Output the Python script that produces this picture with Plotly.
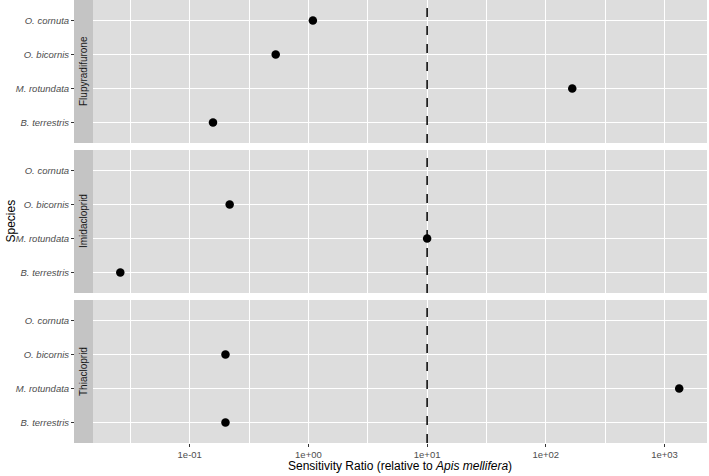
import plotly.graph_objects as go

species = ["B. terrestris", "M. rotundata", "O. bicornis", "O. cornuta"]
panels = ["Flupyradifurone", "Imidacloprid", "Thiacloprid"]
flupyradifurone = [0.157, 167, 0.53, 1.09]
imidacloprid = [0.026, 10, 0.217, None]
thiacloprid = [0.20, 1330, 0.20, None]
values = [flupyradifurone, imidacloprid, thiacloprid]
tick_vals = [0.1, 1, 10, 100, 1000]
tick_text = ["1e-01", "1e+00", "1e+01", "1e+02", "1e+03"]
minor_vals = [10 ** -1.5, 10 ** -0.5, 10 ** 0.5, 10 ** 1.5, 10 ** 2.5]
ref_value = 10

W, H = 709, 476
ml, mr, mt, mb = 74, 2, 0, 33
pw = W - ml - mr
ph = H - mt - mb
strip_w = 19
xdom0 = strip_w / pw

# panel pixel bounds (within plot area)
pix = [(0, 143), (150, 293), (300, 443)]
ydoms = [[1 - b / ph, 1 - a / ph] for a, b in pix]

font = "Liberation Sans, Arial, sans-serif"
fig = go.Figure()
xrange = [-1.815, 3.358]

for i, (name, vals) in enumerate(zip(panels, values)):
    n = "" if i == 0 else str(i + 1)
    xs, ys = [], []
    for s, v in zip(species, vals):
        if v is not None:
            xs.append(v)
            ys.append(s)
    fig.add_trace(go.Scatter(x=xs, y=ys, mode="markers",
                             marker=dict(color="black", size=8.5),
                             xaxis="x" + n, yaxis="y" + n, showlegend=False,
                             cliponaxis=False))
    show_labels = (i == 2)
    fig.layout["xaxis" + n] = dict(
        domain=[xdom0, 1], anchor="y" + n, type="log", range=xrange,
        automargin=False,
        tickvals=tick_vals, ticktext=tick_text, showticklabels=show_labels,
        ticks="outside" if show_labels else "", ticklen=3, tickcolor="#333333",
        tickfont=dict(family=font, size=9.5, color="#4D4D4D"),
        showgrid=True, gridcolor="white", gridwidth=1.1,
        minor=dict(tickvals=minor_vals, showgrid=True, gridcolor="white",
                   gridwidth=0.7, ticks=""),
        zeroline=False, showline=False,
        matches=None if i == 0 else "x",
    )
    fig.layout["yaxis" + n] = dict(
        domain=ydoms[i], anchor="free", position=0, type="category",
        automargin=False,
        categoryorder="array", categoryarray=species, range=[-0.6, 3.6],
        tickvals=species, ticks="outside", ticklen=3, tickcolor="#333333",
        tickfont=dict(family=font, size=9.5, color="#4D4D4D", style="italic"),
        showgrid=True, gridcolor="white", gridwidth=1.1,
        zeroline=False, showline=False,
    )
    # strip
    fig.add_shape(type="rect", xref="paper", yref="paper",
                  x0=0, x1=xdom0, y0=ydoms[i][0], y1=ydoms[i][1],
                  fillcolor="#C4C4C4", line=dict(width=0), layer="below")
    fig.add_annotation(text=name, xref="paper", yref="paper",
                       x=xdom0 / 2, y=(ydoms[i][0] + ydoms[i][1]) / 2,
                       xanchor="center", yanchor="middle",
                       textangle=-90, showarrow=False,
                       font=dict(family=font, size=10, color="#1A1A1A"))
    # reference line
    fig.add_shape(type="line", xref="x" + n, yref="y" + n + " domain",
                  x0=ref_value, x1=ref_value, y0=0, y1=1,
                  line=dict(color="black", width=1.5, dash="dash"))

fig.add_annotation(text="Sensitivity Ratio (relative to <i>Apis mellifera</i>)",
                   xref="paper", yref="paper", x=(xdom0 + 1) / 2, y=0,
                   xanchor="center", yshift=-mb + 1, yanchor="bottom",
                   showarrow=False,
                   font=dict(family=font, size=12, color="black"))
fig.add_annotation(text="Species", xref="paper", yref="paper",
                   x=0, xshift=-ml + 1, xanchor="left", y=0.5, yanchor="middle",
                   textangle=-90, showarrow=False,
                   font=dict(family=font, size=12, color="black"))

fig.update_layout(width=W, height=H, margin=dict(l=ml, r=mr, t=mt, b=mb, autoexpand=False),
                  paper_bgcolor="white", plot_bgcolor="#DDDDDD")
fig.write_html("out.html", config={"displayModeBar": False},
               post_script="document.body.style.margin='0';document.body.style.overflow='hidden';")
